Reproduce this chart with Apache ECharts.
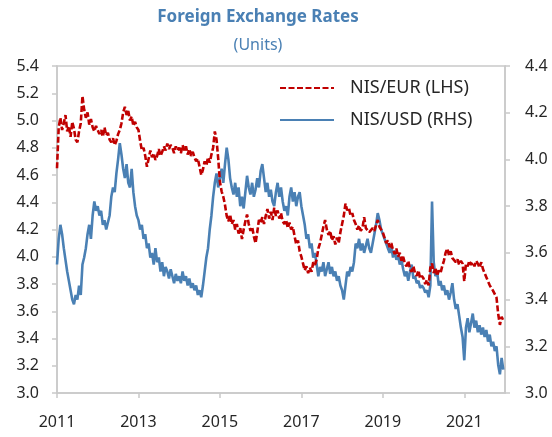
<!DOCTYPE html>
<html>
<head>
<meta charset="utf-8">
<script src="https://cdn.jsdelivr.net/npm/echarts@6/dist/echarts.min.js"></script>
<style>
  html, body { margin: 0; padding: 0; background: #fff; }
  #chart { width: 552px; height: 437px; }
</style>
</head>
<body>
<div id="chart"></div>
<script>
// Half-monthly observations, starting January 2011
const firstYear = 2011;
const samplesPerYear = 24;

// NIS per EUR (left axis)
const eurRate = [
  4.65, 4.95, 5.02, 4.93, 4.98, 5.04, 4.92, 4.96, 4.88, 4.99, 4.94, 4.86, 4.84, 4.92, 4.98, 5.18, 5.08, 5.02, 5.06, 4.97, 5.01, 4.95, 4.92, 4.96,
  4.96, 4.90, 4.93, 4.88, 4.95, 4.89, 4.91, 4.86, 4.84, 4.87, 4.82, 4.85, 4.90, 4.93, 4.98, 5.06, 5.10, 5.04, 5.07, 5.00, 5.03, 4.96, 4.99, 4.95,
  4.93, 4.85, 4.78, 4.80, 4.74, 4.66, 4.72, 4.78, 4.73, 4.76, 4.71, 4.74, 4.79, 4.74, 4.77, 4.81, 4.78, 4.83, 4.79, 4.82, 4.80, 4.76, 4.81, 4.78,
  4.80, 4.76, 4.82, 4.78, 4.81, 4.75, 4.79, 4.74, 4.77, 4.73, 4.70, 4.72, 4.66, 4.60, 4.64, 4.70, 4.67, 4.73, 4.69, 4.75, 4.80, 4.92, 4.86, 4.72,
  4.55, 4.48, 4.44, 4.38, 4.30, 4.26, 4.31, 4.24, 4.27, 4.20, 4.24, 4.17, 4.21, 4.13, 4.20, 4.26, 4.31, 4.24, 4.19, 4.22, 4.15, 4.10, 4.18, 4.27,
  4.25, 4.29, 4.24, 4.30, 4.35, 4.28, 4.33, 4.27, 4.36, 4.30, 4.34, 4.28, 4.32, 4.26, 4.24, 4.27, 4.21, 4.25, 4.20, 4.22, 4.15, 4.09, 4.12, 4.04,
  4.00, 3.95, 3.90, 3.93, 3.88, 3.92, 3.89, 3.96, 3.94, 3.98, 4.06, 4.10, 4.16, 4.22, 4.27, 4.20, 4.16, 4.19, 4.12, 4.15, 4.09, 4.14, 4.10, 4.18,
  4.24, 4.30, 4.39, 4.34, 4.36, 4.30, 4.32, 4.27, 4.24, 4.20, 4.23, 4.19, 4.21, 4.29, 4.21, 4.22, 4.18, 4.17, 4.21, 4.19, 4.23, 4.27, 4.22, 4.20,
  4.18, 4.14, 4.10, 4.12, 4.07, 4.10, 4.05, 4.02, 4.06, 4.00, 4.03, 3.97, 4.00, 3.95, 3.93, 3.97, 3.91, 3.89, 3.93, 3.88, 3.86, 3.90, 3.84, 3.86,
  3.84, 3.80, 3.83, 3.79, 3.92, 3.95, 3.88, 3.92, 3.86, 3.90, 3.88, 3.93, 3.97, 4.03, 4.06, 4.01, 4.04, 3.99, 4.00, 3.96, 3.98, 3.94, 3.97, 3.95,
  3.82, 3.95, 3.93, 3.97, 3.94, 3.96, 3.93, 3.97, 3.95, 3.92, 3.96, 3.91, 3.88, 3.85, 3.82, 3.79, 3.77, 3.75, 3.74, 3.70, 3.58, 3.50, 3.56, 3.53
];

// NIS per USD (right axis)
const usdRate = [
  3.55, 3.66, 3.72, 3.68, 3.62, 3.57, 3.52, 3.48, 3.44, 3.40, 3.38, 3.42, 3.40, 3.46, 3.42, 3.55, 3.58, 3.62, 3.68, 3.72, 3.66, 3.76, 3.82, 3.78,
  3.80, 3.76, 3.78, 3.72, 3.74, 3.70, 3.73, 3.76, 3.84, 3.88, 3.86, 3.94, 4.00, 4.07, 4.02, 3.96, 3.92, 3.98, 3.90, 3.88, 3.96, 3.86, 3.80, 3.76,
  3.74, 3.70, 3.72, 3.66, 3.68, 3.62, 3.64, 3.58, 3.60, 3.55, 3.62, 3.56, 3.58, 3.52, 3.56, 3.50, 3.54, 3.52, 3.49, 3.53, 3.50, 3.47, 3.51, 3.48,
  3.50, 3.47, 3.52, 3.48, 3.50, 3.46, 3.49, 3.45, 3.47, 3.44, 3.46, 3.42, 3.44, 3.41, 3.46, 3.52, 3.58, 3.62, 3.70, 3.76, 3.84, 3.90, 3.94, 3.88,
  3.92, 3.96, 3.90, 3.98, 4.05, 4.00, 3.92, 3.88, 3.85, 3.90, 3.84, 3.88, 3.80, 3.84, 3.79, 3.86, 3.93, 3.88, 3.85, 3.90, 3.84, 3.87, 3.92, 3.88,
  3.95, 3.98, 3.92, 3.86, 3.90, 3.84, 3.87, 3.82, 3.80, 3.86, 3.90, 3.84, 3.88, 3.82, 3.78, 3.80, 3.76, 3.84, 3.88, 3.82, 3.86, 3.80, 3.84, 3.86,
  3.80, 3.76, 3.72, 3.66, 3.68, 3.62, 3.64, 3.58, 3.60, 3.55, 3.50, 3.54, 3.52, 3.56, 3.50, 3.53, 3.56, 3.51, 3.54, 3.50, 3.52, 3.48, 3.50, 3.46,
  3.44, 3.40, 3.46, 3.52, 3.50, 3.54, 3.52, 3.56, 3.64, 3.62, 3.66, 3.61, 3.64, 3.60, 3.63, 3.66, 3.62, 3.60, 3.64, 3.68, 3.72, 3.77, 3.74, 3.70,
  3.68, 3.66, 3.64, 3.62, 3.60, 3.63, 3.58, 3.61, 3.57, 3.59, 3.55, 3.57, 3.53, 3.50, 3.52, 3.48, 3.52, 3.55, 3.49, 3.50, 3.47, 3.48, 3.45, 3.46,
  3.45, 3.43, 3.44, 3.41, 3.46, 3.82, 3.56, 3.50, 3.52, 3.46, 3.48, 3.44, 3.46, 3.42, 3.44, 3.40, 3.43, 3.47, 3.40, 3.36, 3.38, 3.33, 3.28, 3.24,
  3.14, 3.28, 3.32, 3.26, 3.30, 3.34, 3.28, 3.31, 3.26, 3.29, 3.25, 3.28, 3.24, 3.27, 3.22, 3.25, 3.20, 3.22, 3.18, 3.20, 3.12, 3.08, 3.15, 3.10
];

const xTickYears = [2011, 2013, 2015, 2017, 2019, 2021];
const seriesNames = ['NIS/EUR (LHS)', 'NIS/USD (RHS)'];

const toPoints = vals => vals.map((v, i) => [firstYear + i / samplesPerYear, v]);

const FONT = 'Noto Sans';
const AXIS_GRAY = '#c9c9c9';
const TEXT = '#262626';
const BLUE = '#4a80b4';
const RED = '#c00000';

const chart = echarts.init(document.getElementById('chart'), null, { renderer: 'canvas' });

const yAxisCommon = {
  type: 'value',
  min: 3.0,
  interval: 0.2,
  axisLine: { show: true, lineStyle: { color: AXIS_GRAY, width: 1.5 } },
  axisTick: { show: true, length: 5, lineStyle: { color: AXIS_GRAY, width: 1.5 } },
  splitLine: { show: false },
  axisLabel: {
    color: TEXT, fontSize: 16, fontFamily: FONT,
    formatter: v => v.toFixed(1)
  }
};

chart.setOption({
  animation: false,
  backgroundColor: '#fff',
  textStyle: { fontFamily: FONT },
  title: [
    {
      text: 'Foreign Exchange Rates',
      left: 253, top: 4, textAlign: 'center',
      textStyle: { fontSize: 17, fontWeight: 'bold', color: BLUE, fontFamily: FONT }
    },
    {
      text: '(Units)',
      left: 253, top: 32, textAlign: 'center',
      textStyle: { fontSize: 16, fontWeight: 'normal', color: BLUE, fontFamily: FONT }
    }
  ],
  legend: {
    orient: 'vertical',
    left: 274, top: 74,
    itemWidth: 54, itemHeight: 14, itemGap: 14,
    itemStyle: { opacity: 0 },
    textStyle: { fontSize: 18, color: TEXT, fontFamily: FONT, padding: [0, 0, 0, 11] },
    data: seriesNames
  },
  grid: {
    left: 57, right: 47, top: 66, bottom: 44,
    show: true, borderColor: AXIS_GRAY, borderWidth: 1.5, backgroundColor: 'transparent'
  },
  xAxis: {
    type: 'value',
    min: 2011, max: 2022, interval: 2,
    axisLine: { show: true, lineStyle: { color: AXIS_GRAY, width: 1.5 } },
    axisTick: { show: true, length: 5, customValues: xTickYears, lineStyle: { color: AXIS_GRAY, width: 1.5 } },
    axisLabel: { color: TEXT, fontSize: 16, fontFamily: FONT, margin: 21, customValues: xTickYears, formatter: v => String(v) },
    splitLine: { show: false }
  },
  yAxis: [
    Object.assign({}, yAxisCommon, { position: 'left', max: 5.4,
      axisLabel: Object.assign({}, yAxisCommon.axisLabel, { margin: 18 }) }),
    Object.assign({}, yAxisCommon, { position: 'right', max: 4.4,
      axisLabel: Object.assign({}, yAxisCommon.axisLabel, { margin: 20 }) })
  ],
  series: [
    {
      name: seriesNames[1], type: 'line', yAxisIndex: 1,
      data: toPoints(usdRate),
      showSymbol: false, symbol: 'none',
      lineStyle: { color: BLUE, width: 2.6 },
      itemStyle: { color: BLUE },
      z: 2
    },
    {
      name: seriesNames[0], type: 'line', yAxisIndex: 0,
      data: toPoints(eurRate),
      showSymbol: false, symbol: 'none',
      lineStyle: { color: RED, width: 2.6, type: [6, 2.5] },
      itemStyle: { color: RED },
      z: 3
    }
  ]
});
</script>
</body>
</html>
